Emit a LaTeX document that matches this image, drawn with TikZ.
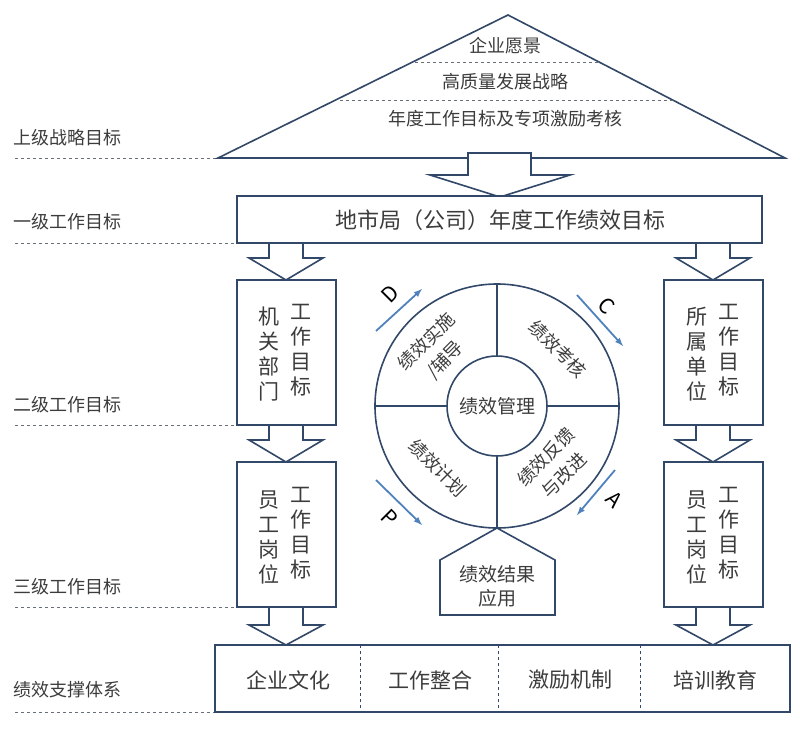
\documentclass[tikz,border=0pt]{standalone}
\usepackage{fontspec}
\setmainfont{Noto Sans CJK SC}
\usetikzlibrary{positioning}
\definecolor{frame}{RGB}{50,72,105}
\definecolor{ink}{RGB}{60,60,60}
\definecolor{cyc}{RGB}{79,129,189}
\tikzset{
  box/.style={draw=frame, line width=1.6pt, fill=white},
  lvl/.style={font=\fontsize{18}{18}\selectfont, text=ink, anchor=west},
  guide/.style={draw=gray!70!frame, dashed, line width=1pt},
  vtxt/.style={font=\fontsize{21}{25}\selectfont, text=ink, align=center, inner sep=0},
  qtxt/.style={font=\fontsize{18}{26}\selectfont, text=ink, align=center, inner sep=0},
  pdca/.style={draw=cyc, line width=1.8pt, -latex},
  letter/.style={font=\fontsize{21}{21}\selectfont, text=black}
}
\newcommand{\blockarrow}[4]{% x, shaft top, head start, tip
  \draw[box] (#1-17,#2) -- (#1+17,#2) -- (#1+17,#3) -- (#1+37,#3) -- (#1,#4)
    -- (#1-37,#3) -- (#1-17,#3) -- cycle;}
\begin{document}
\begin{tikzpicture}[x=1pt,y=-1pt]
\useasboundingbox (0,0) rectangle (800,728);
% level labels
\node[lvl] (l1) at (10,138) {上级战略目标};
\node[lvl] (l2) at (10,222) {一级工作目标};
\node[lvl] (l3) at (10,405) {二级工作目标};
\node[lvl] (l4) at (10,587) {三级工作目标};
\node[lvl] (l5) at (10,690) {绩效支撑体系};
\draw[guide] (15,158) -- (220,158);
\draw[guide] (15,243) -- (237,243);
\draw[guide] (15,425) -- (237,425);
\draw[guide] (15,607) -- (237,607);
\draw[guide] (15,712) -- (215,712);
% roof
\draw[box] (508,15) -- (785,158) -- (218,158) -- cycle;
\draw[guide] (415,62) -- (601,62);
\draw[guide] (340,100) -- (676,100);
\node[qtxt] (vision) at (505,46) {企业愿景};
\node[qtxt] (strat) at (505,82) {高质量发展战略};
\node[qtxt] (annual) at (505,119) {年度工作目标及专项激励考核};
% top arrow
\draw[box] (468,153) -- (531,153) -- (531,175) -- (570,175) -- (500,197)
  -- (430,175) -- (468,175) -- cycle;
% first level
\draw[box] (237,196) rectangle (762,243);
\node[font=\fontsize{22}{22}\selectfont, text=ink] (corp) at (500,220) {地市局（公司）年度工作绩效目标};
% side columns
\blockarrow{286}{243}{258}{280}
\blockarrow{713}{243}{258}{280}
\draw[box] (237,280) rectangle (336,425);
\draw[box] (664,280) rectangle (763,425);
\blockarrow{286}{425}{440}{462}
\blockarrow{713}{425}{440}{462}
\draw[box] (237,462) rectangle (336,607);
\draw[box] (664,462) rectangle (763,607);
\blockarrow{286}{607}{625}{645}
\blockarrow{713}{607}{625}{645}
\node[vtxt] (dept) at (269,354) {机\\关\\部\\门};
\node[vtxt] (deptg) at (301,350) {工\\作\\目\\标};
\node[vtxt] (unit) at (697,354) {所\\属\\单\\位};
\node[vtxt] (unitg) at (729,350) {工\\作\\目\\标};
\node[vtxt] (staffl) at (269,537) {员\\工\\岗\\位};
\node[vtxt] (staffgl) at (301,533) {工\\作\\目\\标};
\node[vtxt] (staffr) at (697,537) {员\\工\\岗\\位};
\node[vtxt] (staffgr) at (729,533) {工\\作\\目\\标};
% cycle
\coordinate (c) at (497,406);
\draw[frame, line width=1.6pt] (c) circle[radius=122];
\draw[frame, line width=1.2pt] (497,284) -- (497,528) (375,406) -- (619,406);
\draw[box] (c) circle[radius=50];
\node[font=\fontsize{19}{19}\selectfont, text=ink] (core) at (c) {绩效管理};
\node[qtxt, rotate=45] (qd) at (436,351) {绩效实施\\/辅导};
\node[qtxt, rotate=-45] (qc) at (558,349) {绩效考核};
\node[qtxt, rotate=-45] (qp) at (438,468) {绩效计划};
\node[qtxt, rotate=45] (qa) at (555,466) {绩效反馈\\与改进};
% result
\draw[box] (497,528) -- (555,560) -- (555,615) -- (440,615) -- (440,560) -- cycle;
\node[qtxt, font=\fontsize{19}{24}\selectfont] (res) at (497,586) {绩效结果\\应用};
% pdca arrows
\coordinate (d1) at (376,331); \coordinate (d2) at (422,289);
\coordinate (c1) at (577,295); \coordinate (c2) at (623,346);
\coordinate (a1) at (615,470); \coordinate (a2) at (577,515);
\coordinate (p1) at (376,480); \coordinate (p2) at (422,525);
\draw[pdca] (d1) -- (d2);
\draw[pdca] (c1) -- (c2);
\draw[pdca] (a1) -- (a2);
\draw[pdca] (p1) -- (p2);
\node[letter, rotate=45] (ld) at (390,294) {D};
\node[letter, rotate=-45] (lc) at (607,306) {C};
\node[letter, rotate=-45] (la) at (614,500) {A};
\node[letter, rotate=-45] (lp) at (390,518) {P};
% support
\draw[box] (215,645) rectangle (790,712);
\draw[guide, frame] (360,645) -- (360,712);
\draw[guide, frame] (498,645) -- (498,712);
\draw[guide, frame] (640,645) -- (640,712);
\node[vtxt] (cult) at (288,680) {企业文化};
\node[vtxt] (integ) at (430,680) {工作整合};
\node[vtxt] (incent) at (570,680) {激励机制};
\node[vtxt] (train) at (715,680) {培训教育};
\end{tikzpicture}
\end{document}
